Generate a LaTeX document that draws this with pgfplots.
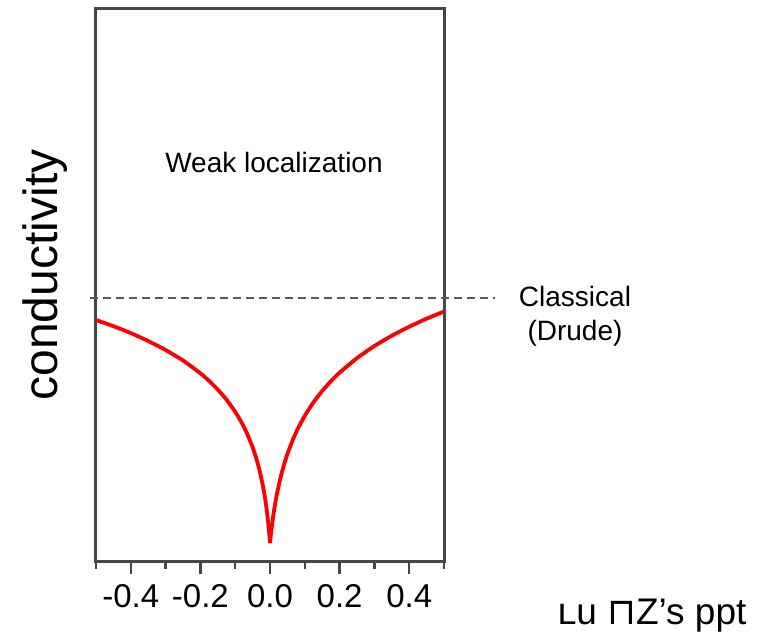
\documentclass[border=0pt]{standalone}
\usepackage{fontspec}
\setmainfont{Liberation Sans}
\newfontfamily\dejavu{DejaVu Sans}
\usepackage{pgfplots}
\pgfplotsset{compat=1.18}
\begin{document}
\begin{tikzpicture}[x=1pt,y=1pt]
\path[use as bounding box] (-96,-82) rectangle (665,562);
\begin{axis}[
  at={(0,0)}, anchor=south west,
  scale only axis, width=348pt, height=553pt,
  xmin=-0.5, xmax=0.5, ymin=0, ymax=553,
  axis line style={black!72, line width=3pt},
  ytick=\empty,
  xtick={-0.4,-0.2,0,0.2,0.4},
  xticklabels={-0.4,-0.2,0.0,0.2,0.4},
  minor xtick={-0.5,-0.3,-0.1,0.1,0.3,0.5},
  xtick pos=bottom,
  tick align=outside,
  major tick length=12pt, minor tick length=7pt,
  every tick/.style={black!72, line width=2.5pt},
  xticklabel style={font=\fontsize{33}{39}\selectfont, inner sep=0pt, yshift=-10pt},
  clip=false,
]
\addplot[black!65, line width=2.4pt, dash pattern=on 8pt off 5pt] coordinates {(-0.517,264) (0.647,264)};
\addplot[red, line width=3.8pt, line join=round, smooth, tension=0.3] coordinates {
(-0.5,242.0) (-0.45,235.8) (-0.4,228.9) (-0.35,221.0) (-0.3,212.0) (-0.25,201.5) (-0.2,188.7) (-0.175,181.1) (-0.15,172.4) (-0.125,162.3) (-0.1,150.2) (-0.08,138.4) (-0.065,127.7) (-0.05,114.8) (-0.04,104.3) (-0.03,91.6) (-0.02,75.5) (-0.015,65.6) (-0.01,53.6) (-0.005,38.7) (-0.002,27.7) (0,19)};
\addplot[red, line width=3.8pt, line join=round, smooth, tension=0.3] coordinates {
(0,19) (0.002,25.8) (0.005,34.9) (0.01,47.8) (0.015,58.8) (0.02,68.2) (0.03,84.1) (0.04,97.1) (0.05,108.0) (0.065,121.8) (0.08,133.3) (0.1,146.3) (0.125,159.7) (0.15,171.1) (0.175,180.8) (0.2,189.4) (0.25,203.9) (0.3,216.0) (0.35,226.3) (0.4,235.3) (0.45,243.3) (0.5,250.5)};
\end{axis}
\node[rotate=90, font=\fontsize{48}{56}\selectfont] at (-51,287) {conductivity};
\node[font=\fontsize{28}{33}\selectfont] at (178,399) {Weak localization};
\node[font=\fontsize{28}{33}\selectfont] at (479,265) {Classical};
\node[font=\fontsize{28}{33}\selectfont] at (479,229) {(Drude)};
\node[font=\fontsize{37}{44}\selectfont, anchor=base] at (556,-63) {{\dejavu ʟ}u {\dejavu ⊓}Z’s ppt};
\end{tikzpicture}
\end{document}
